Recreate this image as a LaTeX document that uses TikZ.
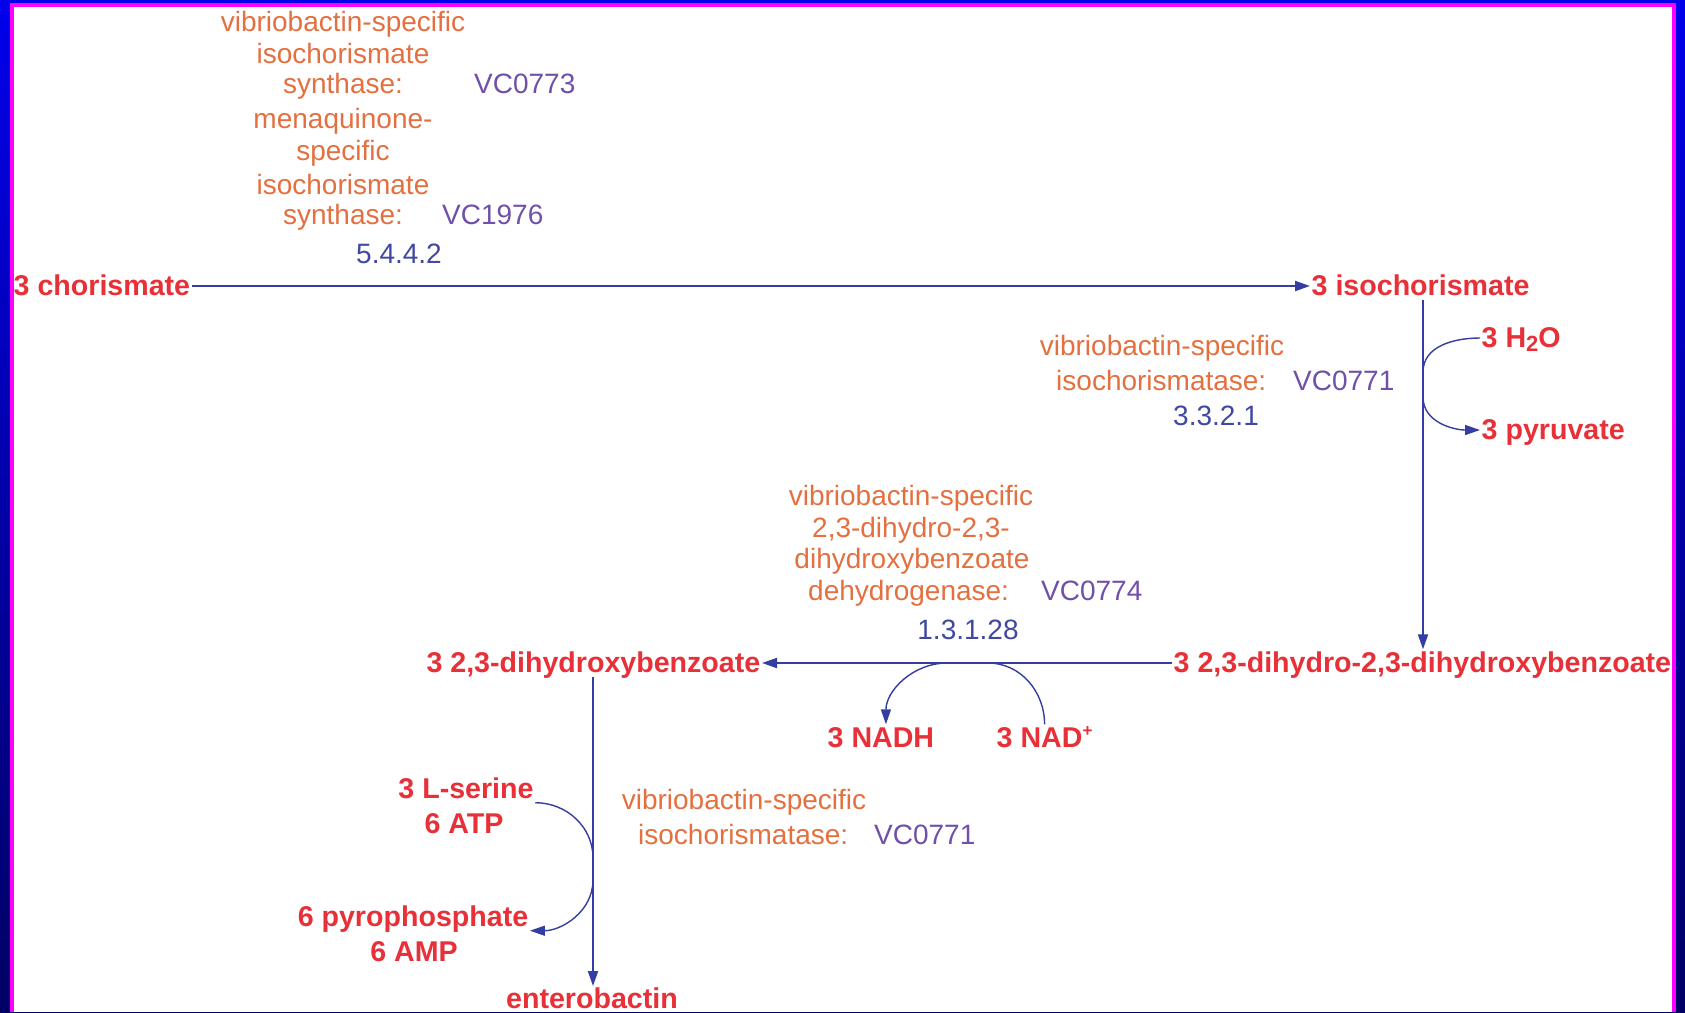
\documentclass[tikz,border=0pt]{standalone}
\usepackage{fontspec}
\setmainfont{Liberation Sans}
\usetikzlibrary{arrows.meta}
\definecolor{cpd}{RGB}{232,48,56}
\definecolor{enz}{RGB}{228,112,64}
\definecolor{gene}{RGB}{112,80,168}
\definecolor{ecn}{RGB}{64,72,160}
\definecolor{rxn}{RGB}{52,62,160}
\definecolor{navyb}{RGB}{0,0,100}
\definecolor{blueb}{RGB}{0,0,235}
\definecolor{magb}{RGB}{255,0,255}
\begin{document}
\begin{tikzpicture}[x=1pt,y=1pt,
  cpdnode/.style={text=cpd, font=\fontsize{28.6}{31}\selectfont\bfseries, inner sep=1.5pt, text height=21pt, text depth=3pt},
  enzline/.style={text=enz, font=\fontsize{28}{31}\selectfont, inner sep=0pt, anchor=base},
  enzwest/.style={enzline, anchor=base west},
  genenode/.style={text=gene, font=\fontsize{28}{31}\selectfont, inner sep=0pt, anchor=base west},
  ecnode/.style={text=ecn, font=\fontsize{28}{31}\selectfont, inner sep=0pt, anchor=base},
  mainarrow/.style={draw=rxn, line width=2pt, -{Triangle[length=15pt,width=10pt]}},
  sideline/.style={draw=rxn, line width=1.4pt},
  sidetip/.style={sideline, -{Triangle[length=15pt,width=10pt]}}]
\useasboundingbox (0,0) rectangle (1685,-1012);
% frame
\shade[top color=blueb, bottom color=navyb] (0,0) rectangle (1685,-1012);
\fill[magb] (10,-3) rectangle (1676,-1012);
\fill[white] (14,-7) rectangle (1672,-1012);

% compounds
\node[cpdnode, anchor=west] (chor) at (12,-286) {3 chorismate};
\node[cpdnode, anchor=west] (isochor) at (1310,-286) {3 isochorismate};
\node[cpdnode, anchor=west] (h2o) at (1480,-338) {3 H\raisebox{-4pt}{\fontsize{22}{22}\selectfont 2}O};
\node[cpdnode, anchor=west] (pyr) at (1480,-430) {3 pyruvate};
\node[cpdnode, anchor=west] (dihydro) at (1172,-663) {3 2,3-dihydro-2,3-dihydroxybenzoate};
\node[cpdnode, anchor=east] (dhb) at (762,-663) {3 2,3-dihydroxybenzoate};
\node[cpdnode, anchor=west] (nadh) at (826,-738) {3 NADH};
\node[cpdnode, anchor=west] (nad) at (995,-738) {3 NAD\raisebox{11pt}{\fontsize{17}{17}\selectfont +}};
\node[cpdnode, anchor=base] (ser) at (466,-798) {3 L-serine};
\node[cpdnode, anchor=base] (atp) at (464,-833) {6 ATP};
\node[cpdnode, anchor=base] (pyro) at (413,-926) {6 pyrophosphate};
\node[cpdnode, anchor=base] (amp) at (414,-961) {6 AMP};
\node[cpdnode, anchor=north] (entero) at (592,-986) {enterobactin};

% enzyme 1
\node[enzline] (e1a) at (343,-31) {vibriobactin-specific};
\node[enzline] (e1b) at (343,-63) {isochorismate};
\node[enzline] (e1c) at (343,-93) {synthase:};
\node[genenode] (g1a) at (474,-93) {VC0773};
\node[enzline] (e1d) at (343,-128) {menaquinone-};
\node[enzline] (e1e) at (343,-160) {specific};
\node[enzline] (e1f) at (343,-194) {isochorismate};
\node[enzline] (e1g) at (343,-224) {synthase:};
\node[genenode] (g1b) at (442,-224) {VC1976};
\node[ecnode] (ec1) at (399,-263) {5.4.4.2};

% enzyme 2
\node[enzline] (e2a) at (1162,-355) {vibriobactin-specific};
\node[enzwest] (e2b) at (1056,-390) {isochorismatase:};
\node[genenode] (g2) at (1293,-390) {VC0771};
\node[ecnode] (ec2) at (1216,-425) {3.3.2.1};

% enzyme 3
\node[enzline] (e3a) at (911,-505) {vibriobactin-specific};
\node[enzline] (e3b) at (911,-537) {2,3-dihydro-2,3-};
\node[enzline] (e3c) at (912,-568) {dihydroxybenzoate};
\node[enzwest] (e3d) at (808,-600) {dehydrogenase:};
\node[genenode] (g3) at (1041,-600) {VC0774};
\node[ecnode] (ec3) at (968,-639) {1.3.1.28};

% enzyme 4
\node[enzline] (e4a) at (744,-809) {vibriobactin-specific};
\node[enzwest] (e4b) at (638,-844) {isochorismatase:};
\node[genenode] (g4) at (874,-844) {VC0771};

% attachment points on main lines
\coordinate (r2a) at (1423,-372);
\coordinate (r2b) at (1423,-397);
\coordinate (r3a) at (947,-663);
\coordinate (r3b) at (988,-663);
\coordinate (r4a) at (593,-858);
\coordinate (r4b) at (593,-880);

% main reactions
\draw[mainarrow] (chor) -- (isochor);
\draw[mainarrow] (isochor.south -| r2a) -- (dihydro.north -| r2a);
\draw[mainarrow] (dihydro) -- (dhb);
\draw[mainarrow] (dhb.south -| r4a) -- (entero.north -| r4a);

% side reactions
\draw[sideline] (h2o.west) to[out=180,in=90] (r2a);
\draw[sidetip] (r2b) to[out=-90,in=180] (pyr.west);
\draw[sidetip] (r3a) to[out=180,in=90] ([xshift=5pt]nadh.north);
\draw[sideline] (nad.north) to[out=90,in=0] (r3b);
\draw[sideline] (ser.south east) to[out=0,in=90] (r4a);
\draw[sidetip] (r4b) to[out=-90,in=0] (pyro.south east);
\end{tikzpicture}
\end{document}
